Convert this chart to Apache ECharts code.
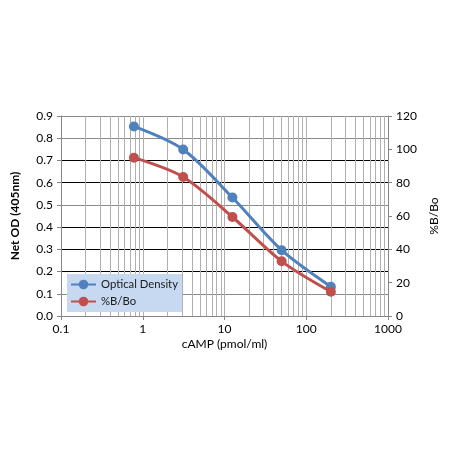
<!DOCTYPE html>
<html>
<head>
<meta charset="utf-8">
<script src="https://cdn.jsdelivr.net/npm/echarts@6/dist/echarts.min.js"></script>
<style>
  html, body { margin: 0; padding: 0; background: #fff; }
  #main { width: 450px; height: 450px; }
</style>
</head>
<body>
<div id="main"></div>
<script>
// 标准品浓度 cAMP (pmol/ml)
var conc = [0.78, 3.125, 12.5, 50, 200];
// Net OD (405nm)
var od = [0.853, 0.749, 0.533, 0.296, 0.132];
// %B/Bo
var bbo = [95.0, 83.4, 59.4, 32.8, 14.6];
// 对数轴次刻度网格线位置
var minorX = [0.2, 0.3, 0.4, 0.5, 0.6, 0.7, 0.8, 0.9,
  2, 3, 4, 5, 6, 7, 8, 9,
  20, 30, 40, 50, 60, 70, 80, 90,
  200, 300, 400, 500, 600, 700, 800, 900];

var FONT = 'Lato';
var chart = echarts.init(document.getElementById('main'));

function pair(xs, ys) {
  var out = [];
  for (var i = 0; i < xs.length; i++) out.push([xs[i], ys[i]]);
  return out;
}

var option = {
  animation: false,
  backgroundColor: '#fff',
  textStyle: { fontFamily: FONT },
  grid: { left: 61, right: 62, top: 116, bottom: 134 },
  legend: {
    left: 67,
    top: 274,
    orient: 'vertical',
    backgroundColor: '#c6d9f1',
    padding: [5, 4, 5, 3],
    itemWidth: 25,
    itemHeight: 12,
    itemGap: 6,
    textStyle: { fontFamily: FONT, fontSize: 11.3, color: '#1a1a1a' },
    data: ['Optical Density', '%B/Bo']
  },
  xAxis: {
    type: 'log',
    logBase: 10,
    min: 0.1,
    max: 1000,
    name: 'cAMP (pmol/ml)',
    nameLocation: 'middle',
    nameGap: 22,
    nameTextStyle: { fontFamily: FONT, fontSize: 12, color: '#000' },
    axisLine: { lineStyle: { color: '#868686' } },
    axisTick: { show: true, length: 4, lineStyle: { color: '#868686' } },
    axisLabel: {
      fontSize: 12, color: '#000', margin: 7,
      formatter: function (v) { return String(Number(v.toPrecision(3))); }
    },
    splitLine: { show: true, lineStyle: { color: '#b0b0b0' } }
  },
  yAxis: [{
    type: 'value',
    min: 0,
    max: 0.9,
    interval: 0.1,
    name: 'Net OD (405nm)',
    nameLocation: 'middle',
    nameRotate: 90,
    nameGap: 40,
    nameTextStyle: { fontFamily: FONT, fontSize: 12, fontWeight: 'bold', color: '#000' },
    axisLine: { show: true, lineStyle: { color: '#868686' } },
    axisTick: { show: true, length: 4, lineStyle: { color: '#868686' } },
    axisLabel: {
      fontSize: 12, color: '#000', margin: 8,
      formatter: function (v) { return v.toFixed(1); }
    },
    splitLine: {
      show: true,
      lineStyle: {
        color: ['#868686', '#8a8a8a', '#000', '#000', '#000', '#8a8a8a', '#000', '#000', '#8a8a8a', '#8a8a8a']
      }
    }
  }, {
    type: 'value',
    min: 0,
    max: 120,
    interval: 20,
    position: 'right',
    name: '%B/Bo',
    nameLocation: 'middle',
    nameRotate: 90,
    nameGap: 32,
    nameTextStyle: { fontFamily: FONT, fontSize: 12, color: '#000' },
    axisLine: { show: true, lineStyle: { color: '#868686' } },
    axisTick: { show: true, length: 4, lineStyle: { color: '#868686' } },
    axisLabel: { fontSize: 12, color: '#000', margin: 8 },
    splitLine: { show: false }
  }],
  series: [{
    name: 'Optical Density',
    type: 'line',
    yAxisIndex: 0,
    smooth: 0.3,
    symbol: 'circle',
    symbolSize: 10,
    z: 3,
    lineStyle: { width: 3, color: '#4f81bd' },
    itemStyle: { color: '#4f81bd' },
    data: pair(conc, od),
    markLine: {
      silent: true,
      symbol: 'none',
      z: 1,
      label: { show: false },
      lineStyle: { type: 'solid', width: 1, color: '#b0b0b0' },
      data: minorX.map(function (x) { return { xAxis: x }; })
    }
  }, {
    name: '%B/Bo',
    type: 'line',
    yAxisIndex: 1,
    smooth: 0.3,
    symbol: 'circle',
    symbolSize: 10,
    z: 4,
    lineStyle: { width: 3, color: '#c0504d' },
    itemStyle: { color: '#c0504d' },
    data: pair(conc, bbo)
  }]
};

chart.setOption(option);
</script>
</body>
</html>
